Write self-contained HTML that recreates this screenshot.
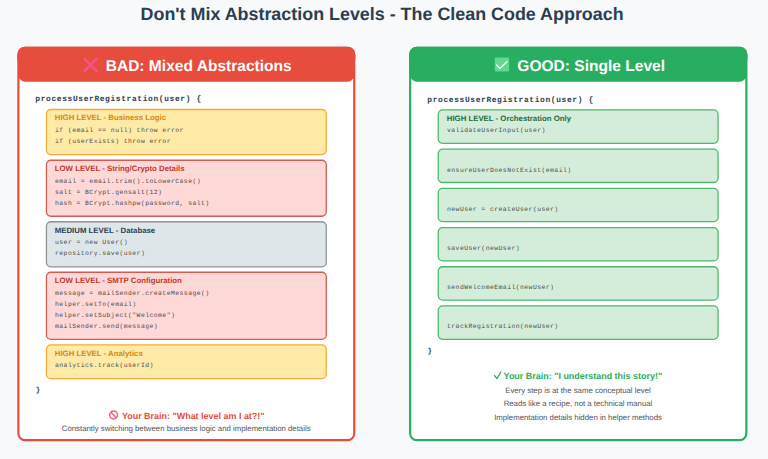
<!DOCTYPE html>
<html><head><meta charset="utf-8"><title>Don't Mix Abstraction Levels</title>
<style>
html,body{margin:0;padding:0;background:#f8f9fa;}
body{width:768px;height:459px;overflow:hidden;font-family:"Liberation Sans",sans-serif;}
svg{display:block} text{text-rendering:geometricPrecision}
</style></head><body>
<svg width="768" height="459" viewBox="0 0 768 459">
<rect width="768" height="459" fill="#f8f9fa"/>
<text x="382.10" y="19.80" font-family='"Liberation Sans", sans-serif' font-size="17.9" font-weight="bold" fill="#2c3e50" text-anchor="middle" >Don't Mix Abstraction Levels - The Clean Code Approach</text>
<rect x="18.40" y="47.90" width="335.85" height="392.30" rx="6.60" fill="#ffffff" stroke="#e74c3c" stroke-width="2.2"/>
<rect x="17.30" y="46.80" width="338.05" height="20" rx="7.7" fill="#e74c3c"/>
<rect x="18.50" y="52.80" width="335.65" height="29.00" rx="6.8" fill="#e74c3c"/>
<g stroke="#f8508a" stroke-width="2.7" stroke-linecap="round"><line x1="84.6" y1="58.9" x2="96.6" y2="71.0"/><line x1="96.6" y1="58.9" x2="84.6" y2="71.0"/></g>
<text x="105.70" y="70.70" font-family='"Liberation Sans", sans-serif' font-size="15.55" font-weight="bold" fill="#ffffff" text-anchor="start" >BAD: Mixed Abstractions</text>
<text x="35.30" y="101.30" font-family='"Liberation Mono", monospace' font-size="7.9" font-weight="bold" fill="#2c3e50" text-anchor="start" letter-spacing="0.636">processUserRegistration(user) {</text>
<rect x="46.44" y="109.49" width="279.82" height="45.07" rx="4.46" fill="#ffeaa7" stroke="#f5ab35" stroke-width="1.28"/>
<text x="54.80" y="120.45" font-family='"Liberation Sans", sans-serif' font-size="7.8" font-weight="bold" fill="#d68910" text-anchor="start" >HIGH LEVEL - Business Logic</text>
<text x="55.00" y="131.95" font-family='"Liberation Mono", monospace' font-size="6.4" font-weight="normal" fill="#4a4a4a" text-anchor="start" letter-spacing="0.46">if (email == null) throw error</text>
<text x="55.00" y="143.20" font-family='"Liberation Mono", monospace' font-size="6.4" font-weight="normal" fill="#4a4a4a" text-anchor="start" letter-spacing="0.46">if (userExists) throw error</text>
<rect x="46.44" y="160.24" width="279.82" height="56.02" rx="4.46" fill="#ffd8d7" stroke="#cf5d52" stroke-width="1.28"/>
<text x="54.80" y="171.20" font-family='"Liberation Sans", sans-serif' font-size="7.8" font-weight="bold" fill="#c0392b" text-anchor="start" >LOW LEVEL - String/Crypto Details</text>
<text x="55.00" y="182.70" font-family='"Liberation Mono", monospace' font-size="6.4" font-weight="normal" fill="#4a4a4a" text-anchor="start" letter-spacing="0.46">email = email.trim().toLowerCase()</text>
<text x="55.00" y="193.95" font-family='"Liberation Mono", monospace' font-size="6.4" font-weight="normal" fill="#4a4a4a" text-anchor="start" letter-spacing="0.46">salt = BCrypt.gensalt(12)</text>
<text x="55.00" y="205.20" font-family='"Liberation Mono", monospace' font-size="6.4" font-weight="normal" fill="#4a4a4a" text-anchor="start" letter-spacing="0.46">hash = BCrypt.hashpw(password, salt)</text>
<rect x="46.44" y="221.74" width="279.82" height="45.12" rx="4.46" fill="#dfe6e9" stroke="#8a9499" stroke-width="1.28"/>
<text x="54.80" y="232.70" font-family='"Liberation Sans", sans-serif' font-size="7.8" font-weight="bold" fill="#2c3e50" text-anchor="start" >MEDIUM LEVEL - Database</text>
<text x="55.00" y="244.20" font-family='"Liberation Mono", monospace' font-size="6.4" font-weight="normal" fill="#4a4a4a" text-anchor="start" letter-spacing="0.46">user = new User()</text>
<text x="55.00" y="255.45" font-family='"Liberation Mono", monospace' font-size="6.4" font-weight="normal" fill="#4a4a4a" text-anchor="start" letter-spacing="0.46">repository.save(user)</text>
<rect x="46.44" y="272.24" width="279.82" height="67.22" rx="4.46" fill="#ffd8d7" stroke="#cf5d52" stroke-width="1.28"/>
<text x="54.80" y="283.20" font-family='"Liberation Sans", sans-serif' font-size="7.8" font-weight="bold" fill="#c0392b" text-anchor="start" >LOW LEVEL - SMTP Configuration</text>
<text x="55.00" y="294.70" font-family='"Liberation Mono", monospace' font-size="6.4" font-weight="normal" fill="#4a4a4a" text-anchor="start" letter-spacing="0.46">message = mailSender.createMessage()</text>
<text x="55.00" y="305.95" font-family='"Liberation Mono", monospace' font-size="6.4" font-weight="normal" fill="#4a4a4a" text-anchor="start" letter-spacing="0.46">helper.setTo(email)</text>
<text x="55.00" y="317.20" font-family='"Liberation Mono", monospace' font-size="6.4" font-weight="normal" fill="#4a4a4a" text-anchor="start" letter-spacing="0.46">helper.setSubject("Welcome")</text>
<text x="55.00" y="328.45" font-family='"Liberation Mono", monospace' font-size="6.4" font-weight="normal" fill="#4a4a4a" text-anchor="start" letter-spacing="0.46">mailSender.send(message)</text>
<rect x="46.44" y="344.94" width="279.82" height="33.77" rx="4.46" fill="#ffeaa7" stroke="#f5ab35" stroke-width="1.28"/>
<text x="54.80" y="355.90" font-family='"Liberation Sans", sans-serif' font-size="7.8" font-weight="bold" fill="#d68910" text-anchor="start" >HIGH LEVEL - Analytics</text>
<text x="55.00" y="367.40" font-family='"Liberation Mono", monospace' font-size="6.4" font-weight="normal" fill="#4a4a4a" text-anchor="start" letter-spacing="0.46">analytics.track(userId)</text>
<text x="37.90" y="392.20" font-family='"Liberation Mono", monospace' font-size="7.3" font-weight="bold" fill="#2c3e50" text-anchor="middle" >}</text>
<g fill="none" stroke="#f4607c" stroke-width="1.5"><circle cx="113.6" cy="415.0" r="3.9"/><line x1="110.9" y1="412.3" x2="116.3" y2="417.7"/></g>
<text x="121.90" y="418.70" font-family='"Liberation Sans", sans-serif' font-size="8.96" font-weight="bold" fill="#e74c3c" text-anchor="start" >Your Brain: "What level am I at?!"</text>
<text x="186.20" y="431.30" font-family='"Liberation Sans", sans-serif' font-size="7.8" font-weight="normal" fill="#4f5359" text-anchor="middle" >Constantly switching between business logic and implementation details</text>
<rect x="410.15" y="47.90" width="336.20" height="392.30" rx="6.60" fill="#ffffff" stroke="#27ae60" stroke-width="2.2"/>
<rect x="409.05" y="46.80" width="338.40" height="20" rx="7.7" fill="#27ae60"/>
<rect x="410.25" y="52.80" width="336.00" height="29.00" rx="6.8" fill="#27ae60"/>
<rect x="494.8" y="57.4" width="14.3" height="14.1" rx="1" fill="#5fd98f"/>
<polyline points="496.6,64.9 499.9,68.4 506.9,61.8" fill="none" stroke="#ffffff" stroke-width="1.4" stroke-linecap="round" stroke-linejoin="round"/>
<text x="517.30" y="70.50" font-family='"Liberation Sans", sans-serif' font-size="15.55" font-weight="bold" fill="#ffffff" text-anchor="start" >GOOD: Single Level</text>
<text x="427.30" y="101.60" font-family='"Liberation Mono", monospace' font-size="7.9" font-weight="bold" fill="#2c3e50" text-anchor="start" letter-spacing="0.636">processUserRegistration(user) {</text>
<rect x="438.24" y="109.94" width="279.82" height="33.37" rx="4.46" fill="#d4edda" stroke="#4cb86b" stroke-width="1.28"/>
<text x="446.80" y="120.70" font-family='"Liberation Sans", sans-serif' font-size="7.8" font-weight="bold" fill="#1e6b3a" text-anchor="start" >HIGH LEVEL - Orchestration Only</text>
<text x="447.00" y="132.40" font-family='"Liberation Mono", monospace' font-size="6.4" font-weight="normal" fill="#4a4a4a" text-anchor="start" letter-spacing="0.46">validateUserInput(user)</text>
<rect x="438.24" y="149.14" width="279.82" height="33.37" rx="4.46" fill="#d4edda" stroke="#4cb86b" stroke-width="1.28"/>
<text x="447.00" y="171.60" font-family='"Liberation Mono", monospace' font-size="6.4" font-weight="normal" fill="#4a4a4a" text-anchor="start" letter-spacing="0.46">ensureUserDoesNotExist(email)</text>
<rect x="438.24" y="188.34" width="279.82" height="33.37" rx="4.46" fill="#d4edda" stroke="#4cb86b" stroke-width="1.28"/>
<text x="447.00" y="210.80" font-family='"Liberation Mono", monospace' font-size="6.4" font-weight="normal" fill="#4a4a4a" text-anchor="start" letter-spacing="0.46">newUser = createUser(user)</text>
<rect x="438.24" y="227.54" width="279.82" height="33.37" rx="4.46" fill="#d4edda" stroke="#4cb86b" stroke-width="1.28"/>
<text x="447.00" y="250.00" font-family='"Liberation Mono", monospace' font-size="6.4" font-weight="normal" fill="#4a4a4a" text-anchor="start" letter-spacing="0.46">saveUser(newUser)</text>
<rect x="438.24" y="266.74" width="279.82" height="33.37" rx="4.46" fill="#d4edda" stroke="#4cb86b" stroke-width="1.28"/>
<text x="447.00" y="289.20" font-family='"Liberation Mono", monospace' font-size="6.4" font-weight="normal" fill="#4a4a4a" text-anchor="start" letter-spacing="0.46">sendWelcomeEmail(newUser)</text>
<rect x="438.24" y="305.94" width="279.82" height="33.37" rx="4.46" fill="#d4edda" stroke="#4cb86b" stroke-width="1.28"/>
<text x="447.00" y="328.40" font-family='"Liberation Mono", monospace' font-size="6.4" font-weight="normal" fill="#4a4a4a" text-anchor="start" letter-spacing="0.46">trackRegistration(newUser)</text>
<text x="429.70" y="353.30" font-family='"Liberation Mono", monospace' font-size="7.3" font-weight="bold" fill="#2c3e50" text-anchor="middle" >}</text>
<path d="M494.6 375.6 L497.0 378.5 L500.9 372.0" fill="none" stroke="#27ae60" stroke-width="1.3" stroke-linecap="round" stroke-linejoin="round"/>
<text x="503.60" y="378.50" font-family='"Liberation Sans", sans-serif' font-size="8.96" font-weight="bold" fill="#27ae60" text-anchor="start" >Your Brain: "I understand this story!"</text>
<text x="578.00" y="392.50" font-family='"Liberation Sans", sans-serif' font-size="7.8" font-weight="normal" fill="#4f5359" text-anchor="middle" >Every step is at the same conceptual level</text>
<text x="578.00" y="406.30" font-family='"Liberation Sans", sans-serif' font-size="7.8" font-weight="normal" fill="#4f5359" text-anchor="middle" >Reads like a recipe, not a technical manual</text>
<text x="578.00" y="420.10" font-family='"Liberation Sans", sans-serif' font-size="7.8" font-weight="normal" fill="#4f5359" text-anchor="middle" >Implementation details hidden in helper methods</text>
</svg>
</body></html>
